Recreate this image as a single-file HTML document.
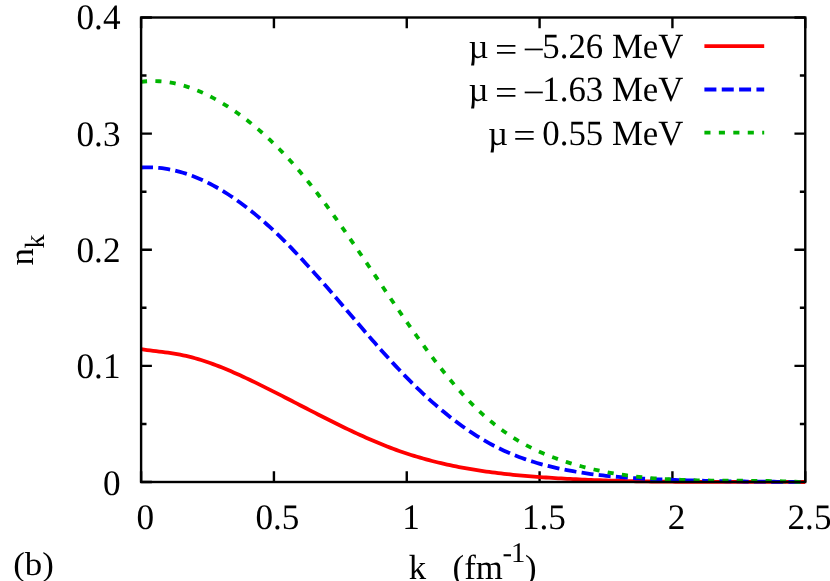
<!DOCTYPE html>
<html>
<head>
<meta charset="utf-8">
<title>n_k vs k</title>
<style>
  html, body { margin:0; padding:0; background:#ffffff; }
  body { width:830px; height:581px; overflow:hidden; position:relative; font-family:"Liberation Serif", serif; }
  svg { position:absolute; left:0; top:0; display:block; will-change:transform; }
  text { font-family:"Liberation Serif", serif; font-size:34.8px; fill:#000; text-rendering:geometricPrecision; }
</style>
</head>
<body>
<svg width="830" height="581" viewBox="0 0 830 581">
  <rect x="0" y="0" width="830" height="581" fill="#ffffff"/>

  <!-- ticks -->
  <path d="M141.10,482.0 v-10.8 M141.10,17.5 v10.8 M273.93,482.0 v-10.8 M273.93,17.5 v10.8 M406.76,482.0 v-10.8 M406.76,17.5 v10.8 M539.59,482.0 v-10.8 M539.59,17.5 v10.8 M672.42,482.0 v-10.8 M672.42,17.5 v10.8 M805.25,482.0 v-10.8 M805.25,17.5 v10.8 M141.1,482.00 h10.8 M805.25,482.00 h-10.8 M141.1,423.94 h5.4 M805.25,423.94 h-5.4 M141.1,365.88 h10.8 M805.25,365.88 h-10.8 M141.1,307.81 h5.4 M805.25,307.81 h-5.4 M141.1,249.75 h10.8 M805.25,249.75 h-10.8 M141.1,191.69 h5.4 M805.25,191.69 h-5.4 M141.1,133.62 h10.8 M805.25,133.62 h-10.8 M141.1,75.56 h5.4 M805.25,75.56 h-5.4 M141.1,17.50 h10.8 M805.25,17.50 h-10.8" fill="none" stroke="#000" stroke-width="2.4"/>

  <!-- curves -->
  <g fill="none" stroke-width="3.8" stroke-linejoin="round">
    <path id="cred" stroke="#ff0000" d="M141.1,349.18 L144.1,349.61 L147.1,350.02 L150.1,350.41 L153.1,350.79 L156.1,351.17 L159.1,351.54 L162.1,351.92 L165.1,352.32 L168.1,352.73 L171.1,353.17 L174.1,353.64 L177.1,354.15 L180.1,354.71 L183.1,355.31 L186.1,355.97 L189.1,356.68 L192.1,357.45 L195.1,358.27 L198.1,359.13 L201.1,360.04 L204.1,361.00 L207.1,362.00 L210.1,363.04 L213.1,364.12 L216.1,365.24 L219.1,366.39 L222.1,367.58 L225.1,368.80 L228.1,370.05 L231.1,371.33 L234.1,372.64 L237.1,373.98 L240.1,375.33 L243.1,376.71 L246.1,378.11 L249.1,379.53 L252.1,380.96 L255.1,382.41 L258.1,383.87 L261.1,385.35 L264.1,386.83 L267.1,388.33 L270.1,389.83 L273.1,391.34 L276.1,392.87 L279.1,394.39 L282.1,395.93 L285.1,397.47 L288.1,399.01 L291.1,400.55 L294.1,402.10 L297.1,403.65 L300.1,405.20 L303.1,406.75 L306.1,408.30 L309.1,409.85 L312.1,411.39 L315.1,412.93 L318.1,414.47 L321.1,416.00 L324.1,417.52 L327.1,419.04 L330.1,420.54 L333.1,422.04 L336.1,423.53 L339.1,425.01 L342.1,426.48 L345.1,427.93 L348.1,429.37 L351.1,430.79 L354.1,432.20 L357.1,433.60 L360.1,434.98 L363.1,436.33 L366.1,437.67 L369.1,439.00 L372.1,440.30 L375.1,441.57 L378.1,442.83 L381.1,444.06 L384.1,445.27 L387.1,446.46 L390.1,447.61 L393.1,448.74 L396.1,449.85 L399.1,450.92 L402.1,451.97 L405.1,452.99 L408.1,453.98 L411.1,454.94 L414.1,455.88 L417.1,456.79 L420.1,457.68 L423.1,458.54 L426.1,459.37 L429.1,460.18 L432.1,460.97 L435.1,461.73 L438.1,462.47 L441.1,463.19 L444.1,463.88 L447.1,464.55 L450.1,465.21 L453.1,465.84 L456.1,466.45 L459.1,467.04 L462.1,467.61 L465.1,468.16 L468.1,468.69 L471.1,469.21 L474.1,469.71 L477.1,470.19 L480.1,470.65 L483.1,471.10 L486.1,471.53 L489.1,471.95 L492.1,472.35 L495.1,472.73 L498.1,473.10 L501.1,473.46 L504.1,473.81 L507.1,474.14 L510.1,474.46 L513.1,474.77 L516.1,475.07 L519.1,475.35 L522.1,475.63 L525.1,475.89 L528.1,476.15 L531.1,476.40 L534.1,476.64 L537.1,476.87 L540.1,477.09 L543.1,477.30 L546.1,477.51 L549.1,477.71 L552.1,477.91 L555.1,478.10 L558.1,478.28 L561.1,478.46 L564.1,478.63 L567.1,478.79 L570.1,478.95 L573.1,479.11 L576.1,479.26 L579.1,479.40 L582.1,479.54 L585.1,479.67 L588.1,479.80 L591.1,479.92 L594.1,480.04 L597.1,480.15 L600.1,480.26 L603.1,480.37 L606.1,480.47 L609.1,480.56 L612.1,480.65 L615.1,480.74 L618.1,480.82 L621.1,480.90 L624.1,480.97 L627.1,481.04 L630.1,481.11 L633.1,481.17 L636.1,481.23 L639.1,481.29 L642.1,481.34 L645.1,481.39 L648.1,481.44 L651.1,481.48 L654.1,481.52 L657.1,481.56 L660.1,481.60 L663.1,481.63 L666.1,481.66 L669.1,481.69 L672.1,481.71 L675.1,481.74 L678.1,481.76 L681.1,481.78 L684.1,481.79 L687.1,481.81 L690.1,481.82 L693.1,481.83 L696.1,481.84 L699.1,481.85 L702.1,481.86 L705.1,481.86 L708.1,481.87 L711.1,481.87 L714.1,481.88 L717.1,481.88 L720.1,481.88 L723.1,481.88 L726.1,481.88 L729.1,481.88 L732.1,481.88 L735.1,481.88 L738.1,481.87 L741.1,481.87 L744.1,481.87 L747.1,481.87 L750.1,481.87 L753.1,481.87 L756.1,481.87 L759.1,481.87 L762.1,481.87 L765.1,481.87 L768.1,481.87 L771.1,481.87 L774.1,481.88 L777.1,481.88 L780.1,481.89 L783.1,481.90 L786.1,481.91 L789.1,481.92 L792.1,481.93 L795.1,481.94 L798.1,481.96 L801.1,481.98 L804.1,481.99 L805.2,482.00"/>
    <path id="cblue" stroke="#0000ff" stroke-dasharray="12 5.27" d="M141.0,167.48 L144.0,167.34 L147.0,167.28 L150.0,167.30 L153.0,167.40 L156.0,167.59 L159.0,167.85 L162.0,168.19 L165.0,168.61 L168.0,169.11 L171.0,169.68 L174.0,170.33 L177.0,171.06 L180.0,171.86 L183.0,172.73 L186.0,173.68 L189.0,174.70 L192.0,175.79 L195.0,176.95 L198.0,178.19 L201.0,179.49 L204.0,180.86 L207.0,182.30 L210.0,183.81 L213.0,185.39 L216.0,187.03 L219.0,188.74 L222.0,190.51 L225.0,192.35 L228.0,194.25 L231.0,196.22 L234.0,198.24 L237.0,200.33 L240.0,202.48 L243.0,204.69 L246.0,206.96 L249.0,209.29 L252.0,211.68 L255.0,214.12 L258.0,216.63 L261.0,219.18 L264.0,221.80 L267.0,224.47 L270.0,227.19 L273.0,229.96 L276.0,232.79 L279.0,235.67 L282.0,238.61 L285.0,241.59 L288.0,244.62 L291.0,247.70 L294.0,250.82 L297.0,253.98 L300.0,257.18 L303.0,260.41 L306.0,263.69 L309.0,266.99 L312.0,270.32 L315.0,273.68 L318.0,277.07 L321.0,280.47 L324.0,283.90 L327.0,287.35 L330.0,290.81 L333.0,294.29 L336.0,297.78 L339.0,301.27 L342.0,304.78 L345.0,308.28 L348.0,311.79 L351.0,315.30 L354.0,318.81 L357.0,322.31 L360.0,325.81 L363.0,329.30 L366.0,332.77 L369.0,336.23 L372.0,339.68 L375.0,343.10 L378.0,346.51 L381.0,349.89 L384.0,353.25 L387.0,356.58 L390.0,359.88 L393.0,363.14 L396.0,366.38 L399.0,369.57 L402.0,372.73 L405.0,375.84 L408.0,378.91 L411.0,381.94 L414.0,384.92 L417.0,387.85 L420.0,390.74 L423.0,393.58 L426.0,396.37 L429.0,399.11 L432.0,401.80 L435.0,404.44 L438.0,407.04 L441.0,409.58 L444.0,412.07 L447.0,414.52 L450.0,416.91 L453.0,419.25 L456.0,421.53 L459.0,423.77 L462.0,425.95 L465.0,428.07 L468.0,430.15 L471.0,432.16 L474.0,434.13 L477.0,436.03 L480.0,437.89 L483.0,439.68 L486.0,441.42 L489.0,443.10 L492.0,444.73 L495.0,446.29 L498.0,447.81 L501.0,449.26 L504.0,450.67 L507.0,452.02 L510.0,453.32 L513.0,454.57 L516.0,455.77 L519.0,456.93 L522.0,458.04 L525.0,459.11 L528.0,460.13 L531.0,461.12 L534.0,462.06 L537.0,462.96 L540.0,463.83 L543.0,464.66 L546.0,465.45 L549.0,466.21 L552.0,466.94 L555.0,467.64 L558.0,468.31 L561.0,468.94 L564.0,469.55 L567.0,470.14 L570.0,470.70 L573.0,471.23 L576.0,471.75 L579.0,472.24 L582.0,472.71 L585.0,473.16 L588.0,473.59 L591.0,474.01 L594.0,474.40 L597.0,474.77 L600.0,475.13 L603.0,475.47 L606.0,475.79 L609.0,476.10 L612.0,476.39 L615.0,476.67 L618.0,476.93 L621.0,477.18 L624.0,477.41 L627.0,477.64 L630.0,477.85 L633.0,478.05 L636.0,478.24 L639.0,478.41 L642.0,478.58 L645.0,478.74 L648.0,478.89 L651.0,479.04 L654.0,479.17 L657.0,479.30 L660.0,479.42 L663.0,479.54 L666.0,479.65 L669.0,479.76 L672.0,479.86 L675.0,479.96 L678.0,480.06 L681.0,480.16 L684.0,480.25 L687.0,480.33 L690.0,480.42 L693.0,480.50 L696.0,480.58 L699.0,480.66 L702.0,480.73 L705.0,480.80 L708.0,480.87 L711.0,480.94 L714.0,481.00 L717.0,481.06 L720.0,481.12 L723.0,481.17 L726.0,481.23 L729.0,481.28 L732.0,481.33 L735.0,481.37 L738.0,481.42 L741.0,481.46 L744.0,481.50 L747.0,481.53 L750.0,481.57 L753.0,481.60 L756.0,481.63 L759.0,481.66 L762.0,481.68 L765.0,481.70 L768.0,481.73 L771.0,481.75 L774.0,481.76 L777.0,481.78 L780.0,481.79 L783.0,481.80 L786.0,481.81 L789.0,481.82 L792.0,481.83 L795.0,481.83 L798.0,481.84 L801.0,481.84 L804.0,481.84 L805.0,481.84"/>
    <path id="cgreen" stroke="#00b400" stroke-dasharray="6.1 8.30" d="M141.0,81.82 L144.0,81.49 L147.0,81.25 L150.0,81.10 L153.0,81.05 L156.0,81.10 L159.0,81.23 L162.0,81.46 L165.0,81.77 L168.0,82.17 L171.0,82.66 L174.0,83.23 L177.0,83.89 L180.0,84.63 L183.0,85.45 L186.0,86.35 L189.0,87.34 L192.0,88.39 L195.0,89.53 L198.0,90.74 L201.0,92.02 L204.0,93.38 L207.0,94.81 L210.0,96.31 L213.0,97.87 L216.0,99.51 L219.0,101.21 L222.0,102.97 L225.0,104.80 L228.0,106.69 L231.0,108.65 L234.0,110.67 L237.0,112.75 L240.0,114.89 L243.0,117.10 L246.0,119.38 L249.0,121.71 L252.0,124.12 L255.0,126.59 L258.0,129.12 L261.0,131.73 L264.0,134.40 L267.0,137.13 L270.0,139.94 L273.0,142.81 L276.0,145.75 L279.0,148.76 L282.0,151.84 L285.0,154.99 L288.0,158.21 L291.0,161.50 L294.0,164.86 L297.0,168.29 L300.0,171.79 L303.0,175.36 L306.0,179.01 L309.0,182.72 L312.0,186.49 L315.0,190.33 L318.0,194.22 L321.0,198.17 L324.0,202.17 L327.0,206.22 L330.0,210.32 L333.0,214.46 L336.0,218.64 L339.0,222.86 L342.0,227.11 L345.0,231.40 L348.0,235.71 L351.0,240.05 L354.0,244.42 L357.0,248.80 L360.0,253.21 L363.0,257.63 L366.0,262.06 L369.0,266.50 L372.0,270.95 L375.0,275.40 L378.0,279.85 L381.0,284.30 L384.0,288.75 L387.0,293.18 L390.0,297.61 L393.0,302.02 L396.0,306.42 L399.0,310.79 L402.0,315.15 L405.0,319.48 L408.0,323.78 L411.0,328.05 L414.0,332.29 L417.0,336.49 L420.0,340.65 L423.0,344.77 L426.0,348.85 L429.0,352.87 L432.0,356.85 L435.0,360.78 L438.0,364.66 L441.0,368.47 L444.0,372.23 L447.0,375.93 L450.0,379.56 L453.0,383.12 L456.0,386.62 L459.0,390.04 L462.0,393.40 L465.0,396.67 L468.0,399.86 L471.0,402.98 L474.0,406.01 L477.0,408.95 L480.0,411.80 L483.0,414.57 L486.0,417.24 L489.0,419.82 L492.0,422.31 L495.0,424.72 L498.0,427.04 L501.0,429.29 L504.0,431.45 L507.0,433.53 L510.0,435.54 L513.0,437.48 L516.0,439.34 L519.0,441.14 L522.0,442.87 L525.0,444.53 L528.0,446.13 L531.0,447.67 L534.0,449.16 L537.0,450.58 L540.0,451.95 L543.0,453.27 L546.0,454.54 L549.0,455.75 L552.0,456.93 L555.0,458.05 L558.0,459.14 L561.0,460.19 L564.0,461.19 L567.0,462.17 L570.0,463.10 L573.0,464.01 L576.0,464.88 L579.0,465.72 L582.0,466.54 L585.0,467.32 L588.0,468.07 L591.0,468.79 L594.0,469.48 L597.0,470.15 L600.0,470.79 L603.0,471.40 L606.0,471.98 L609.0,472.54 L612.0,473.08 L615.0,473.59 L618.0,474.08 L621.0,474.54 L624.0,474.98 L627.0,475.40 L630.0,475.80 L633.0,476.17 L636.0,476.53 L639.0,476.87 L642.0,477.18 L645.0,477.48 L648.0,477.76 L651.0,478.03 L654.0,478.27 L657.0,478.50 L660.0,478.72 L663.0,478.92 L666.0,479.10 L669.0,479.27 L672.0,479.43 L675.0,479.58 L678.0,479.71 L681.0,479.83 L684.0,479.94 L687.0,480.04 L690.0,480.13 L693.0,480.21 L696.0,480.29 L699.0,480.35 L702.0,480.41 L705.0,480.46 L708.0,480.50 L711.0,480.54 L714.0,480.58 L717.0,480.61 L720.0,480.63 L723.0,480.65 L726.0,480.67 L729.0,480.69 L732.0,480.70 L735.0,480.72 L738.0,480.73 L741.0,480.75 L744.0,480.76 L747.0,480.78 L750.0,480.80 L753.0,480.82 L756.0,480.84 L759.0,480.87 L762.0,480.90 L765.0,480.94 L768.0,480.98 L771.0,481.03 L774.0,481.08 L777.0,481.14 L780.0,481.21 L783.0,481.29 L786.0,481.38 L789.0,481.48 L792.0,481.58 L795.0,481.70 L798.0,481.83 L801.0,481.97 L804.0,482.00 L805.0,482.00"/>
  </g>

  <!-- border -->
  <rect x="141.1" y="17.5" width="664.15" height="464.50" fill="none" stroke="#000" stroke-width="2.4"/>

  <!-- legend samples -->
  <g fill="none" stroke-width="3.8">
    <path stroke="#ff0000" d="M704.4,46.1 H764.2"/>
    <path stroke="#0000ff" stroke-dasharray="12 5.35" d="M704.4,89.5 H764.2"/>
    <path stroke="#00b400" stroke-dasharray="6.1 8.35" d="M704.4,132.7 H764.2"/>
  </g>

  <!-- y tick labels -->
  <g text-anchor="end">
    <text transform="translate(120.5,29.2) scale(1.012,1.03)">0.4</text>
    <text transform="translate(120.5,145.5) scale(1.012,1.03)">0.3</text>
    <text transform="translate(120.5,261.9) scale(1.012,1.03)">0.2</text>
    <text transform="translate(120.5,378.2) scale(1.012,1.03)">0.1</text>
    <text transform="translate(120.5,494.6) scale(1.012,1.03)">0</text>
  </g>

  <!-- x tick labels -->
  <g text-anchor="middle">
    <text transform="translate(145.2,529.2) scale(1.012,1.03)">0</text>
    <text transform="translate(277.4,529.2) scale(1.012,1.03)">0.5</text>
    <text transform="translate(411.0,529.2) scale(1.012,1.03)">1</text>
    <text transform="translate(543.9,529.2) scale(1.012,1.03)">1.5</text>
    <text transform="translate(676.6,529.2) scale(1.012,1.03)">2</text>
    <text transform="translate(809.5,529.2) scale(1.012,1.03)">2.5</text>
  </g>

  <!-- axis labels -->
  <text transform="translate(13.2,575.1) scale(1,0.95)">(b)</text>
  <text transform="translate(408.7,579.1)">k</text>
  <text transform="translate(452.6,579.1)">(fm</text>
  <text x="502.4" y="561.8" style="font-size:28.6px">-</text>
  <text x="510.9" y="561.6" style="font-size:28.6px">1</text>
  <text transform="translate(525.1,579.1)">)</text>
  <g transform="translate(32.9,265.4) rotate(-90)">
    <text x="0" y="0">n</text>
    <text x="16.9" y="11.1" style="font-size:27.8px">k</text>
  </g>

  <!-- legend text -->
  <g text-anchor="end">
    <text transform="translate(683.4,58.0) scale(1,1.02)">5.26 MeV</text>
    <text transform="translate(683.4,101.3) scale(1,1.02)">1.63 MeV</text>
    <text transform="translate(683.4,144.6) scale(1,1.02)">0.55 MeV</text>
  </g>
  <g id="sym">
    <text transform="translate(468.5,58.0)">µ</text>
    <text transform="translate(495.1,60.6) scale(1.14,1)">=</text>
    <text transform="translate(522.8,60.6) scale(1.12,1)">−</text>
    <text transform="translate(468.5,101.3)">µ</text>
    <text transform="translate(495.1,103.9) scale(1.14,1)">=</text>
    <text transform="translate(522.8,103.9) scale(1.12,1)">−</text>
    <text transform="translate(488.0,144.6)">µ</text>
    <text transform="translate(513.2,147.2) scale(1.14,1)">=</text>
  </g>
</svg>
</body>
</html>
